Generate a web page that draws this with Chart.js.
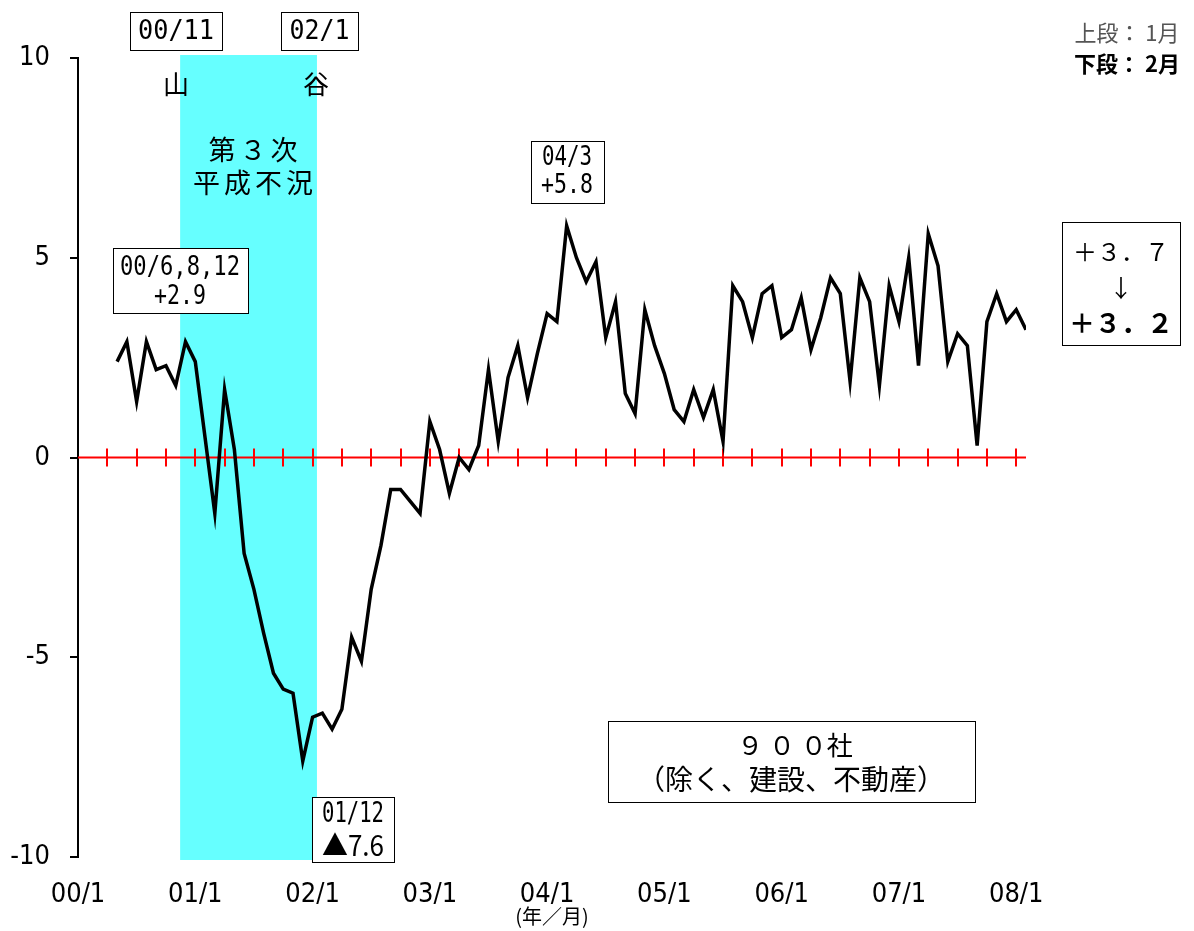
<!DOCTYPE html>
<html lang="ja">
<head>
<meta charset="UTF-8">
<title>chart</title>
<script src="https://cdn.jsdelivr.net/npm/chart.js"></script>
<style>
  html, body { margin: 0; padding: 0; background: #fff; }
</style>
</head>
<body>
<canvas id="myChart" width="1194" height="931"></canvas>
<script>
  // month index counted from 00/1 (= 0); the series starts at 00/5
  let firstMonth = 4;
  let values = [
    2.4, 2.9, 1.4, 2.9, 2.2, 2.3, 1.8, 2.9,                        // 00/5 - 00/12
    2.4, 0.5, -1.4, 1.7, 0.2, -2.4, -3.3, -4.4, -5.4, -5.8, -5.9, -7.6, // 01
    -6.5, -6.4, -6.8, -6.3, -4.5, -5.1, -3.3, -2.2, -0.8, -0.8, -1.1, -1.4, // 02
    0.9, 0.2, -0.9, 0.0, -0.3, 0.3, 2.2, 0.4, 2.0, 2.8, 1.5, 2.6,   // 03
    3.6, 3.4, 5.8, 5.0, 4.4, 4.9, 3.0, 3.9, 1.6, 1.1, 3.7, 2.8,     // 04
    2.1, 1.2, 0.9, 1.7, 1.0, 1.7, 0.4, 4.3, 3.9, 3.0, 4.1, 4.3,     // 05
    3.0, 3.2, 4.0, 2.7, 3.5, 4.5, 4.1, 1.9, 4.5, 3.9, 1.8, 4.3,     // 06
    3.4, 5.0, 2.3, 5.6, 4.8, 2.4, 3.1, 2.8, 0.3, 3.4, 4.1, 3.4,     // 07
    3.7, 3.2                                                        // 08/1 - 08/2
  ];
  let yearTicks = [0, 12, 24, 36, 48, 60, 72, 84, 96];
  let yearLabels = ['00/1', '01/1', '02/1', '03/1', '04/1', '05/1', '06/1', '07/1', '08/1'];
  let yTicks = [-10, -5, 0, 5, 10];
  let yLabels = ['-10', '-5', '0', '5', '10'];
  let quarterTicks = [3, 6, 9, 12, 15, 18, 21, 24, 27, 30, 33, 36, 39, 42, 45, 48,
                      51, 54, 57, 60, 63, 66, 69, 72, 75, 78, 81, 84, 87, 90, 93, 96];
  let xMin = 0, xMax = 97;
  let band = [10.45, 24.45]; // 00/11 (山) - 02/1 (谷)

  let mono = "'DejaVu Sans Mono', monospace";
  let jp = "'Noto Sans CJK JP', sans-serif";
  let tickFont = "'Liberation Sans Narrow', 'DejaVu Sans Condensed', 'Liberation Sans', sans-serif";

  function drawText(ctx, text, cx, cy, font, w, color) {
    ctx.save();
    ctx.font = font;
    ctx.fillStyle = color || '#000';
    ctx.textAlign = 'center';
    ctx.textBaseline = 'middle';
    let sx = w ? w / ctx.measureText(text).width : 1;
    ctx.translate(cx, cy);
    ctx.scale(sx, 1);
    ctx.fillText(text, 0, 0);
    ctx.restore();
  }

  function box(ctx, x, y, w, h) {
    ctx.save();
    ctx.fillStyle = '#fff';
    ctx.fillRect(x, y, w, h);
    ctx.strokeStyle = '#000';
    ctx.lineWidth = 1;
    ctx.strokeRect(x + 0.5, y + 0.5, w, h);
    ctx.restore();
  }

  // cyan recession band + red zero line with quarter ticks
  let bandPlugin = {
    id: 'band',
    beforeDatasetsDraw(chart) {
      let ctx = chart.ctx;
      let xs = chart.scales.x, ys = chart.scales.y;
      let a = chart.chartArea;
      ctx.save();
      ctx.fillStyle = '#66ffff';
      let x1 = xs.getPixelForValue(band[0]), x2 = xs.getPixelForValue(band[1]);
      ctx.fillRect(x1, a.top - 3, x2 - x1, a.bottom - a.top + 6);

      let y0 = ys.getPixelForValue(0);
      ctx.strokeStyle = '#ff0000';
      ctx.lineWidth = 2;
      ctx.beginPath();
      ctx.moveTo(xs.getPixelForValue(xMin), y0);
      ctx.lineTo(xs.getPixelForValue(xMax), y0);
      quarterTicks.forEach(m => {
        let px = Math.round(xs.getPixelForValue(m));
        ctx.moveTo(px, y0 - 9);
        ctx.lineTo(px, y0 + 9);
      });
      ctx.stroke();
      ctx.restore();
    }
  };

  let notesPlugin = {
    id: 'notes',
    afterDraw(chart) {
      let ctx = chart.ctx;

      box(ctx, 130, 12, 92, 38);
      drawText(ctx, '00/11', 176, 32, '27px ' + mono, 76);
      box(ctx, 281, 12, 77, 38);
      drawText(ctx, '02/1', 319.5, 32, '27px ' + mono, 60);

      drawText(ctx, '山', 176, 84, '26px ' + jp);
      drawText(ctx, '谷', 316, 84, '26px ' + jp);

      ctx.save();
      ctx.letterSpacing = '4px';
      drawText(ctx, '第３次', 255, 150, '27px ' + jp);
      drawText(ctx, '平成不況', 255, 183, '27px ' + jp);
      ctx.restore();

      box(ctx, 113, 248, 135, 65);
      drawText(ctx, '00/6,8,12', 180, 268, '26px ' + mono, 120);
      drawText(ctx, '+2.9', 180, 297, '26px ' + mono, 52);

      box(ctx, 531, 141, 73, 62);
      drawText(ctx, '04/3', 567, 158, '26px ' + mono, 50);
      drawText(ctx, '+5.8', 567, 186, '26px ' + mono, 52);

      box(ctx, 312, 797, 82, 65);
      drawText(ctx, '01/12', 353, 815, '28px ' + mono, 62);
      drawText(ctx, '▲7.6', 353, 845, '28px ' + jp, 62);

      box(ctx, 608, 721, 367, 81);
      drawText(ctx, '９ ０ ０社', 795, 745, '26px ' + jp);
      drawText(ctx, '（除く、建設、不動産）', 791, 779, '28px ' + jp);

      drawText(ctx, '上段： 1月', 1127, 33, '22px ' + jp, 0, '#555');
      drawText(ctx, '下段： 2月', 1127, 64, 'bold 22px ' + jp);

      box(ctx, 1062, 222, 118, 123);
      drawText(ctx, '＋３．７', 1121, 252, '24px ' + jp);
      drawText(ctx, '↓', 1121, 288, '24px ' + jp);
      drawText(ctx, '＋３．２', 1121, 323, 'bold 26px ' + jp);
    }
  };

  let ctx = document.getElementById('myChart').getContext('2d');
  new Chart(ctx, {
    type: 'line',
    data: {
      datasets: [{
        data: values.map((v, i) => ({ x: firstMonth + i, y: v })),
        borderColor: '#000',
        borderWidth: 3.5,
        pointRadius: 0,
        tension: 0,
        fill: false
      }]
    },
    options: {
      responsive: false,
      animation: false,
      layout: { padding: { top: 58, right: 168, bottom: 0, left: 0 } },
      plugins: { legend: { display: false }, tooltip: { enabled: false } },
      scales: {
        x: {
          type: 'linear',
          min: xMin,
          max: xMax,
          afterFit(s) { s.height = 74; },
          afterBuildTicks(s) { s.ticks = yearTicks.map(v => ({ value: v })); },
          grid: { display: false, drawTicks: false },
          border: { display: false },
          ticks: {
            autoSkip: false,
            maxRotation: 0,
            padding: 22,
            color: '#000',
            font: { family: tickFont, size: 27 },
            callback: v => yearLabels[yearTicks.indexOf(v)]
          },
          title: {
            display: true,
            text: '(年／月)',
            color: '#000',
            font: { family: jp, size: 20 },
            padding: { top: 0, bottom: 3 }
          }
        },
        y: {
          min: -10,
          max: 10,
          afterFit(s) { s.width = 78; },
          afterBuildTicks(s) { s.ticks = yTicks.map(v => ({ value: v })); },
          grid: { drawOnChartArea: false, tickLength: 8, color: '#000', lineWidth: 2 },
          border: { color: '#000', width: 2 },
          ticks: {
            padding: 20,
            color: '#000',
            font: { family: tickFont, size: 27 },
            callback: v => yLabels[yTicks.indexOf(v)]
          }
        }
      }
    },
    plugins: [bandPlugin, notesPlugin]
  });
</script>
</body>
</html>
